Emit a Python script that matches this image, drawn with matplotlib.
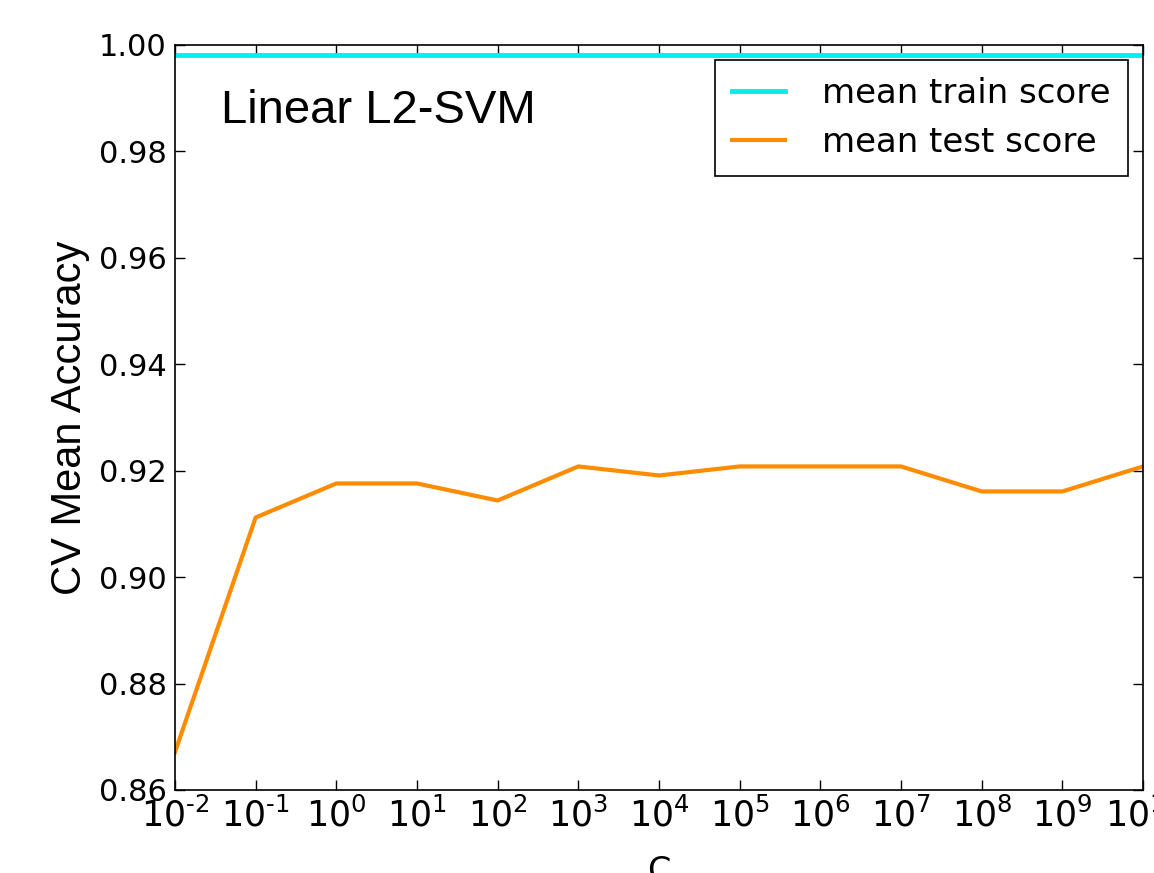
import numpy as np
import matplotlib.pyplot as plt

# grid of C values and the cross-validation scores
C_values = [1e-2, 1e-1, 1e0, 1e1, 1e2, 1e3, 1e4, 1e5, 1e6, 1e7, 1e8, 1e9, 1e10]
train_score = [0.9981] * 13
test_score = [0.8671, 0.9112, 0.9176, 0.9176, 0.9144, 0.9208, 0.9191,
              0.9208, 0.9208, 0.9208, 0.9161, 0.9161, 0.9208]
y_ticks = [0.86, 0.88, 0.90, 0.92, 0.94, 0.96, 0.98, 1.00]
exponents = range(-2, 11)

fig = plt.figure(figsize=(11.54, 8.73), dpi=100)
ax = fig.add_axes([0.1516, 0.0951, 0.8389, 0.8534])

ax.plot(C_values, train_score, color='#00eeee', linewidth=3.5, label='mean train score')
ax.plot(C_values, test_score, color='darkorange', linewidth=3, label='mean test score')

ax.set_xscale('log')
ax.set_xlim(1e-2, 1e10)
ax.set_ylim(0.86, 1.00)
ax.set_xticks(C_values)
ax.set_xticklabels([r'$\mathdefault{10^{\text{%d}}}$' % e for e in exponents])
ax.minorticks_off()
ax.set_yticks(y_ticks)
ax.set_yticklabels(['%.2f' % v for v in y_ticks])

ax.tick_params(direction='in', top=True, right=True, length=7, width=1,
               labelsize=22, pad=6)
ax.tick_params(axis='x', labelsize=25, pad=5)
for s in ax.spines.values():
    s.set_linewidth(1.2)

ax.set_ylabel('CV Mean Accuracy', fontsize=30, family='Liberation Sans', labelpad=6)
ax.set_xlabel('C', fontsize=24, labelpad=16)

ax.text(0.048, 0.895, 'Linear L2-SVM', transform=ax.transAxes, fontsize=34,
        family='Liberation Sans', va='baseline')

leg = ax.legend(loc='upper right', fontsize=24.5, fancybox=False, framealpha=1,
                edgecolor='black', handlelength=1.55, handletextpad=1.1,
                borderaxespad=0.45, borderpad=0.5, labelspacing=0.45)
leg.get_frame().set_linewidth(1.2)

plt.savefig('out.png', dpi=100)
